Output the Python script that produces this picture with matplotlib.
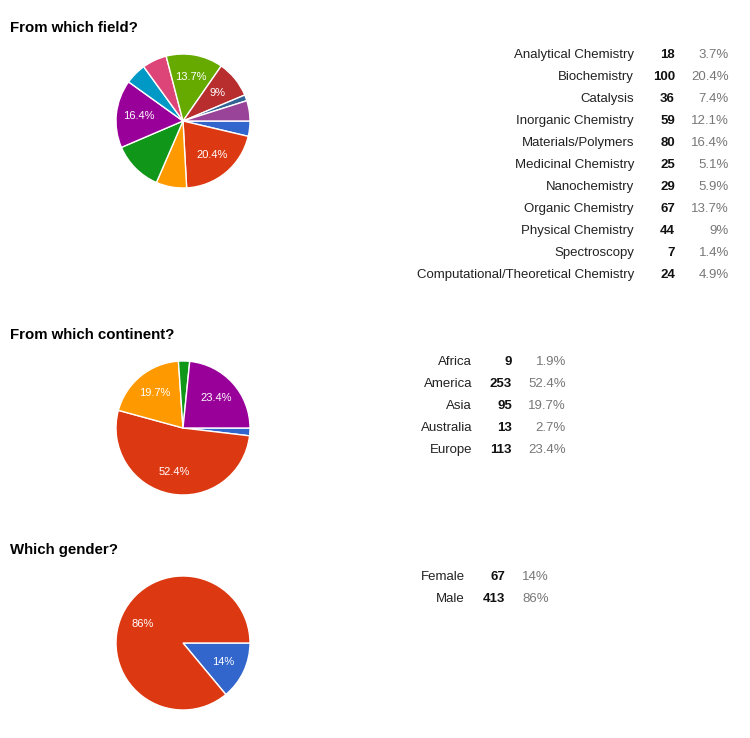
import numpy as np
import matplotlib.pyplot as plt

plt.rcParams['font.family'] = ['Liberation Sans', 'DejaVu Sans']

# Google charts palette
palette = ['#3366CC', '#DC3912', '#FF9900', '#109618', '#990099', '#0099C6',
           '#DD4477', '#66AA00', '#B82E2E', '#316395', '#994499']

# survey answers
field_labels = ['Analytical Chemistry', 'Biochemistry', 'Catalysis', 'Inorganic Chemistry',
                'Materials/Polymers', 'Medicinal Chemistry', 'Nanochemistry',
                'Organic Chemistry', 'Physical Chemistry', 'Spectroscopy',
                'Computational/Theoretical Chemistry']
field_counts = [18, 100, 36, 59, 80, 25, 29, 67, 44, 7, 24]
field_show = [False, True, False, False, True, False, False, True, True, False, False]

continent_labels = ['Africa', 'America', 'Asia', 'Australia', 'Europe']
continent_counts = [9, 253, 95, 13, 113]
continent_show = [False, True, True, False, True]

gender_labels = ['Female', 'Male']
gender_counts = [67, 413]
gender_show = [True, True]

W, H = 750, 738
fig = plt.figure(figsize=(W / 100, H / 100), dpi=100)


def fmt_pct(v):
    s = f"{v:.1f}"
    if s.endswith('.0'):
        s = s[:-2]
    return s + '%'


def section(title, title_y, labels, counts, show, cx, cy, r, col_x, row_y0):
    fig.text(10 / W, 1 - title_y / H, title, fontsize=10.8, fontweight='bold',
             ha='left', va='center')

    ax = fig.add_axes([(cx - r) / W, 1 - (cy + r) / H, 2 * r / W, 2 * r / H])
    total = sum(counts)
    pcts = [100 * c / total for c in counts]
    wedges, _ = ax.pie(counts, colors=palette[:len(counts)], startangle=0,
                       counterclock=False, radius=1,
                       wedgeprops=dict(edgecolor='white', linewidth=1))
    for w, p, s in zip(wedges, pcts, show):
        if not s:
            continue
        a = np.deg2rad((w.theta1 + w.theta2) / 2)
        ax.text(0.67 * np.cos(a), 0.67 * np.sin(a), fmt_pct(p), color='white',
                fontsize=8, ha='center', va='center')
    ax.set_xlim(-1, 1)
    ax.set_ylim(-1, 1)
    ax.set_aspect('equal')
    ax.axis('off')

    lx, nx, px = col_x
    for i, (lab, c, p) in enumerate(zip(labels, counts, pcts)):
        y = 1 - (row_y0 + 22 * i) / H
        fig.text(lx / W, y, lab, fontsize=9.5, ha='right', va='center', color='#222222')
        fig.text(nx / W, y, str(c), fontsize=9.5, fontweight='bold', ha='right',
                 va='center', color='#111111')
        fig.text(px / W, y, fmt_pct(p), fontsize=9.5, ha='right', va='center',
                 color='#777777')


section('From which field?', 28, field_labels, field_counts, field_show,
        183, 121, 67, (634, 675, 729), 55)
section('From which continent?', 335, continent_labels, continent_counts, continent_show,
        183, 428, 67, (472, 512, 566), 362)
section('Which gender?', 550, gender_labels, gender_counts, gender_show,
        183, 643, 67, (465, 505, 549), 577)

fig.savefig('out.png', dpi=100, facecolor='white')
